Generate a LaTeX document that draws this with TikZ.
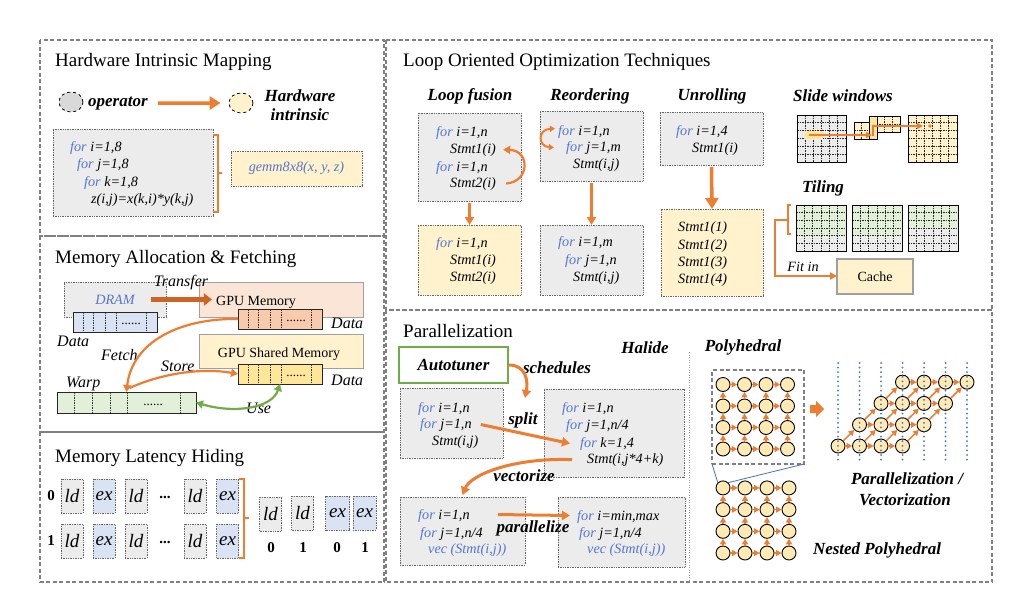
\documentclass[tikz,border=0pt]{standalone}
\usepackage{fontspec}
\setmainfont{Liberation Serif}
\usetikzlibrary{arrows.meta,shapes.geometric,calc}
\definecolor{orng}{RGB}{237,125,49}
\definecolor{dorng}{RGB}{205,100,35}
\definecolor{cblue}{RGB}{84,118,205}
\definecolor{pgray}{RGB}{128,128,128}
\definecolor{cgray}{RGB}{236,236,236}
\definecolor{dgray}{RGB}{100,100,100}
\definecolor{egray}{RGB}{217,217,217}
\definecolor{cyel}{RGB}{255,242,204}
\definecolor{cyel2}{RGB}{255,230,153}
\definecolor{lblue}{RGB}{218,227,243}
\definecolor{lgreen}{RGB}{226,240,217}
\definecolor{sal1}{RGB}{251,229,214}
\definecolor{sal2}{RGB}{248,203,173}
\definecolor{ggreen}{RGB}{112,173,71}
\definecolor{circf}{RGB}{255,234,180}
\definecolor{dblue}{RGB}{68,114,196}
\definecolor{mgray}{RGB}{160,160,160}
\tikzset{
  panel/.style={draw=pgray, line width=1.1pt, dash pattern=on 4pt off 2.5pt},
  dbox/.style={draw=dgray, line width=0.7pt, dash pattern=on 0.8pt off 0.9pt, inner sep=0pt, outer sep=0pt},
  codebox/.style={dbox, fill=cgray},
  yelbox/.style={dbox, fill=cyel},
  memE/.style={draw=mgray, line width=0.9pt, inner sep=0pt, outer sep=0pt},
  arr/.style={draw=black!85, line width=0.9pt, inner sep=0pt, outer sep=0pt},
  divl/.style={draw=black!80, line width=0.7pt, dash pattern=on 1.5pt off 1pt},
  dotsn/.style={font=\fontsize{13}{14}\selectfont, inner sep=0pt},
  ttl/.style={font=\fontsize{19}{22}\selectfont, inner sep=0pt},
  codetxt/.style={font=\fontsize{14.2}{16}\selectfont\itshape, inner sep=0pt},
  lab/.style={font=\fontsize{17}{19}\selectfont\bfseries\itshape, inner sep=0pt},
  itl/.style={font=\fontsize{16}{18}\selectfont\itshape, inner sep=0pt},
  mtxt/.style={font=\fontsize{14}{16}\selectfont, inner sep=0pt},
  oarr/.style={draw=orng, line width=3pt, -{Triangle[length=8pt,width=9pt]}},
  oarrs/.style={draw=orng, line width=2.2pt, -{Triangle[length=7pt,width=8pt]}},
  tarr/.style={draw=dorng, line width=5pt, -{Triangle[length=8pt,width=12pt]}},
  garr/.style={draw=ggreen, line width=2.2pt, {Triangle[length=7pt,width=8pt]}-{Triangle[length=7pt,width=8pt]}},
  obr/.style={draw=orng, line width=2pt},
  latb/.style={dbox, minimum width=22pt, minimum height=34pt, font=\fontsize{19}{20}\selectfont\itshape},
  bnum/.style={font=\fontsize{15}{16}\selectfont\bfseries, inner sep=0pt},
  gridb/.style={draw=black, line width=1pt, inner sep=0pt, outer sep=0pt},
  gridl/.style={draw=black!85, line width=0.9pt, dash pattern=on 1.5pt off 1pt},
  circ/.style={circle, draw=black, line width=0.9pt, fill=circf, minimum size=14pt, inner sep=0pt},
  parr/.style={draw=orng, line width=1.5pt, -{Triangle[length=5.5pt,width=6pt]}},
  bdot/.style={draw=dblue, line width=2pt, line cap=round, dash pattern=on 0pt off 4.6pt},
}
\newcommand\bx[6]{\node[#1, minimum width={(#5)-(#3)}, minimum height={(#6)-(#4)}] (#2) at ({((#3)+(#5))/2},{((#4)+(#6))/2}) {};}
\newcommand\cl[4]{\node[codetxt, anchor=base west] (#1) at (#2,#3) {#4};}
\newcommand\kw{\textcolor{cblue}{for}\ }
\newcommand\marr[8]{\bx{arr, fill=#6}{#1}{#2}{#3}{#4}{#5}
  \foreach \d in {#7}{\draw[divl] (\d,#3) -- (\d,#5);}
  \node[dotsn] (#1d) at (#8,{(#3+#5)/2+2}) {......};}
\newcommand\grd[8]{\bx{gridb,#8}{#1}{#2}{#3}{#4}{#5}
  \foreach \i in {1,...,#6}{\ifnum\i<#6 \draw[gridl] ({#2+(#4-#2)*\i/#6},#3) -- ({#2+(#4-#2)*\i/#6},#5);\fi}
  \foreach \j in {1,...,#7}{\ifnum\j<#7 \draw[gridl] (#2,{#3+(#5-#3)*\j/#7}) -- (#4,{#3+(#5-#3)*\j/#7});\fi}
  \draw[gridb] (#1.north west) rectangle (#1.south east);}
\begin{document}
\begin{tikzpicture}[x=1pt,y=-1pt]
\useasboundingbox (0,0) rectangle (1014,603);
\fill[white] (0,0) rectangle (1014,603);
% ---------- panels
\draw[panel] (40,40) rectangle (384,236);
\draw[panel] (40,236) rectangle (384,432);
\draw[panel] (40,432) rectangle (384,582);
\draw[panel] (386,40) rectangle (992,310);
\draw[panel] (386,310) rectangle (992,582);
\node[ttl, anchor=base west] (t1) at (55,66) {Hardware Intrinsic Mapping};
\node[ttl, anchor=base west] (t2) at (55,263) {Memory Allocation \& Fetching};
\node[ttl, anchor=base west] (t3) at (55,462) {Memory Latency Hiding};
\node[ttl, anchor=base west] (t4) at (403,66) {Loop Oriented Optimization Techniques};
\node[ttl, anchor=base west] (t5) at (403,337) {Parallelization};
% ---------- panel 1
\node[ellipse, draw=black, dashed, line width=0.8pt, fill=egray, minimum width=24pt, minimum height=20pt, inner sep=0pt] (op) at (71,102) {};
\node[lab, anchor=base west] (opl) at (88,106) {operator};
\node[ellipse, draw=black, dashed, line width=0.8pt, fill=cyel, minimum width=24pt, minimum height=20pt, inner sep=0pt] (hw) at (241,103) {};
\node[lab, anchor=base] (hwl1) at (300,101) {Hardware};
\node[lab, anchor=base] (hwl2) at (300,120) {intrinsic};
\draw[draw=orng, line width=3.5pt, -{Triangle[length=11pt,width=13pt]}] ([xshift=10pt]opl.east) -- ([xshift=-8pt]hw.west);
\bx{codebox}{cb1}{53}{129}{213}{216}
\cl{h1}{70}{151}{\kw i=1,8}
\cl{h2}{77}{168.5}{\kw j=1,8}
\cl{h3}{84}{186}{\kw k=1,8}
\cl{h4}{91}{203.5}{z(i,j)=x(k,i)*y(k,j)}
\draw[obr] (213,135) -- (218,135) -- (218,212) -- (213,212) (218,173) -- (222,173);
\bx{yelbox}{gb}{231}{151}{362}{186}
\node[codetxt, text=cblue] (gbt) at (gb) {gemm8x8(x, y, z)};
% ---------- panel 2
\bx{codebox}{dram}{64}{282}{166}{317}
\node[codetxt, text=cblue, anchor=base] (dramt) at (115,304) {DRAM};
\bx{memE, fill=sal1}{gpum}{199}{282}{363}{317}
\node[mtxt, anchor=base] (gpumt) at (256,305) {GPU Memory};
\bx{memE, fill=cyel}{gpus}{199}{334}{363}{368}
\node[mtxt, anchor=base] (gpust) at (279,357) {GPU Shared Memory};
\marr{m1}{73}{312}{157}{332}{lblue}{83,93,105,116,146}{131}
\marr{m2}{238}{309}{322}{329}{sal2}{248,258,270,281,311}{296}
\marr{m3}{238}{364}{322}{384}{cyel2}{248,258,270,281,311}{296}
\marr{m4}{57}{392}{196}{413}{lgreen}{74,92,110,127,180}{153}
\node[itl, anchor=base] (trl) at (181,286) {Transfer};
\draw[tarr] ([xshift=-15pt]dram.east) -- ($(gpumt.west |- dram.east)+(-4,0)$);
\node[itl, anchor=base west] (d1) at (57,346) {Data};
\node[itl, anchor=base west] (d2) at (331,328) {Data};
\node[itl, anchor=base west] (d3) at (331,385) {Data};
\node[itl, anchor=base west] (fl) at (101,360) {Fetch};
\node[itl, anchor=base west] (sl) at (161,371) {Store};
\node[itl, anchor=base west] (wl) at (66,387) {Warp};
\node[itl, anchor=base west] (ul) at (246,413) {Use};
\draw[oarrs] (m2.west) .. controls (180,318) and (132,342) .. (m4.north);
\draw[oarrs] ($(m4.north)+(3,-4)$) .. controls (165,372) and (205,368) .. (m3.west);
\draw[garr] (m4.east) .. controls (235,414) and (272,408) .. (m3.south);
% ---------- panel 3
\node[bnum] (n0) at (51,496) {0};
\node[bnum] (n1) at (51,541) {1};
\node[latb, fill=cgray] (r0a) at (72,496) {ld};
\node[latb, fill=lblue] (r0b) at (104,496) {ex};
\node[latb, fill=cgray] (r0c) at (136,496) {ld};
\node[bnum] (r0d) at (165,497) {...};
\node[latb, fill=cgray] (r0e) at (195,496) {ld};
\node[latb, fill=lblue] (r0f) at (227.5,496) {ex};
\node[latb, fill=cgray] (r1a) at (72,541) {ld};
\node[latb, fill=lblue] (r1b) at (104,541) {ex};
\node[latb, fill=cgray] (r1c) at (136,541) {ld};
\node[bnum] (r1d) at (165,542) {...};
\node[latb, fill=cgray] (r1e) at (195,541) {ld};
\node[latb, fill=lblue] (r1f) at (227.5,541) {ex};
\draw[obr] (239,479) -- (244,479) -- (244,558) -- (239,558) (244,518) -- (249,518);
\node[latb, fill=cgray] (q0) at (270.5,514) {ld};
\node[latb, fill=cgray] (q1) at (302.5,513) {ld};
\node[latb, fill=lblue, minimum width=24pt] (q2) at (337.5,513) {ex};
\node[latb, fill=lblue, minimum width=23pt] (q3) at (364.5,513) {ex};
\node[bnum] (b0) at (271,548) {0};
\node[bnum] (b1) at (303,548) {1};
\node[bnum] (b2) at (337,548) {0};
\node[bnum] (b3) at (365,548) {1};
% ---------- panel 4
\node[lab, anchor=base] (lf) at (470,100) {Loop fusion};
\node[lab, anchor=base] (lr) at (590,100) {Reordering};
\node[lab, anchor=base] (lu) at (712,100) {Unrolling};
\node[lab, anchor=base] (lsw) at (843,101) {Slide windows};
\node[lab, anchor=base] (lt) at (823,192) {Tiling};
\bx{codebox}{fb1}{418}{113}{521}{201}
\cl{f1}{436}{136}{\kw i=1,n}
\cl{f2}{450}{153}{Stmt1(i)}
\cl{f3}{436}{171}{\kw i=1,n}
\cl{f4}{450}{187}{Stmt2(i)}
\draw[oarrs] ([xshift=10pt]f4.east) .. controls +(24,-2) and +(27,1) .. ([xshift=7pt]f2.east);
\bx{yelbox}{fb2}{418}{225}{521}{295}
\cl{g1}{436}{247}{\kw i=1,n}
\cl{g2}{450}{264}{Stmt1(i)}
\cl{g3}{450}{281}{Stmt2(i)}
\draw[oarr] ([yshift=-2pt]fb1.south) -- (fb2.north);
\bx{codebox}{rb1}{540}{111}{643}{181}
\cl{r1}{558}{135}{\kw i=1,n}
\cl{r2}{566}{151}{\kw j=1,m}
\cl{r3}{573}{168}{Stmt(i,j)}
\draw[draw=orng, line width=2pt, {Triangle[length=5pt,width=6pt]}-{Triangle[length=5pt,width=6pt]}] ([xshift=-3pt,yshift=3pt]r1.west) .. controls +(-18,1) and +(-16,-1) .. ([xshift=-12pt]r2.west);
\bx{codebox}{rb2}{540}{225}{643}{295}
\cl{s1}{558}{246}{\kw i=1,m}
\cl{s2}{565}{264}{\kw j=1,n}
\cl{s3}{573}{281}{Stmt(i,j)}
\draw[oarr] ([yshift=-2pt]rb1.south) -- (rb2.north);
\bx{codebox}{ub1}{660}{112}{763}{165}
\cl{u1}{676}{135}{\kw i=1,4}
\cl{u2}{692}{152}{Stmt1(i)}
\bx{yelbox}{ub2}{661}{209}{763}{296}
\cl{v1}{678}{231}{Stmt1(1)}
\cl{v2}{678}{249}{Stmt1(2)}
\cl{v3}{678}{266}{Stmt1(3)}
\cl{v4}{678}{283}{Stmt1(4)}
\draw[draw=orng, line width=3.5pt, -{Triangle[length=11pt,width=13pt]}] ([yshift=-2pt]ub1.south) -- (ub2.north);
% slide windows
\grd{sw1}{797}{115}{846}{162}{6}{6}{fill=cgray}
\fill[cyel2] (805,131) rectangle (823,139);
\grd{pc1}{854}{122}{877}{139}{3}{2}{fill=cyel}
\grd{pc2}{869}{116}{900}{132}{4}{2}{fill=cyel}
\fill[cyel2, draw=black, line width=0.8pt] (869,116) rectangle (877,139);
\grd{sw3}{908}{115}{957}{162}{6}{6}{fill=cyel}
\fill[orng] (930,126) circle (1.8);
\draw[draw=orng, line width=2pt, -{Triangle[length=6pt,width=6pt]}] (809,135) -- (872,135);
\draw[draw=orng, line width=2pt, -{Triangle[length=6pt,width=6pt]}] (873,136) -- (873,126) -- (923,126);
% tiling
\fill[cgray] (796,205) rectangle (846,251);
\fill[lgreen] (796,205) rectangle (846,235.7);
\grd{tg1}{796}{205}{846}{251}{6}{6}{fill=none}
\fill[cgray] (852,205) rectangle (902,251);
\fill[lgreen] (852,205) rectangle (902,235.7);
\grd{tg2}{852}{205}{902}{251}{6}{6}{fill=none}
\fill[cgray] (908,205) rectangle (958,251);
\fill[lgreen] (908,205) rectangle (958,228);
\grd{tg3}{908}{205}{958}{251}{6}{6}{fill=none}
\bx{memE, fill=cyel, line width=1.2pt}{cache}{837}{259}{913}{294}
\node[mtxt] (cachet) at (cache) {Cache};
\draw[obr] (791,205) -- (788,205) -- (788,234) -- (791,234);
\draw[draw=orng, line width=2pt, -{Triangle[length=7pt,width=7pt]}] (788,220) -- (775,220) -- (775,276) -- (cache.west |- 775,276);
\node[codetxt, anchor=base] (fitl) at (803,271) {Fit in};
% ---------- panel 5
\node[lab, anchor=base] (hal) at (645,353) {Halide};
\draw[draw=mgray, line width=1pt, dash pattern=on 1pt off 1.5pt] (689,352) -- (689,582);
\node[draw=ggreen, line width=1.5pt, fill=white, minimum width=109pt, minimum height=36pt, inner sep=0pt, lab] (auto) at (453.5,365) {Autotuner};
\node[lab, anchor=base] (schl) at (557,373) {schedules};
\bx{codebox}{bA}{400}{388}{503}{458}
\cl{pa1}{418}{412}{\kw i=1,n}
\cl{pa2}{420}{428}{\kw j=1,n}
\cl{pa3}{432}{445}{Stmt(i,j)}
\bx{codebox}{bB}{544}{389}{684}{477}
\cl{pb1}{562}{412}{\kw i=1,n}
\cl{pb2}{566}{429}{\kw j=1,n/4}
\cl{pb3}{580}{447}{\kw k=1,4}
\cl{pb4}{587}{463}{Stmt(i,j*4+k)}
\bx{codebox}{bC}{400}{497}{525}{565}
\cl{pc1t}{418}{519}{\kw i=1,n}
\cl{pc2t}{420}{537}{\kw j=1,n/4}
\cl{pc3t}{428}{553}{\textcolor{cblue}{vec (Stmt(i,j))}}
\bx{codebox}{bD}{558}{497}{685}{567}
\cl{pd1}{577}{520}{\kw i=min,max}
\cl{pd2}{579}{537}{\kw j=1,n/4}
\cl{pd3}{587}{553}{\textcolor{cblue}{vec (Stmt(i,j))}}
\draw[oarr] (auto.east) .. controls +(18,0) and +(3,-16) .. ($(bB.north west)+(-19,9)$);
\node[lab, anchor=base] (splt) at (523,424) {split};
\draw[oarr] ([xshift=9pt]pa2.east) -- ([xshift=-10pt]pb3.west);
\node[lab, anchor=base] (vect) at (524,481) {vectorize};
\draw[oarr] ([xshift=-15pt]pb4.west) .. controls +(-60,-2) and +(8,-20) .. ([yshift=2pt]bC.north);
\node[lab, anchor=base] (parl) at (533,532) {parallelize};
\draw[oarr] ($(pc1t.east)+(28,-1)$) -- ($(pd1.west)+(-7,-1)$);
% polyhedral
\node[lab, anchor=base] (polyl) at (743,351) {Polyhedral};
\bx{draw=pgray, line width=1.2pt, dash pattern=on 4pt off 2.5pt, inner sep=0pt, outer sep=0pt}{pbox}{712}{370}{804}{464}
\foreach \r in {0,...,3}{\foreach \c in {0,...,3}{
  \node[circ] (p\r\c) at ({723+\c*21.5},{449-\r*21.5}) {};
  \node[circ] (n\r\c) at ({723+\c*22},{553-\r*21.7}) {};
  \node[circ] (s\r\c) at ({838+(\c+\r)*21.5},{446-\r*21.3}) {};
}}
\foreach \r in {0,...,3}{\foreach \c in {0,...,2}{
  \pgfmathtruncatemacro\cc{\c+1}
  \draw[parr] (p\r\c) -- (p\r\cc);
  \draw[parr] (n\r\c) -- (n\r\cc);
  \draw[parr] (s\r\c) -- (s\r\cc);
}}
\foreach \r in {0,...,2}{\foreach \c in {0,...,3}{
  \pgfmathtruncatemacro\rr{\r+1}
  \draw[parr] (p\r\c) -- (p\rr\c);
  \draw[parr] (n\r\c) -- (n\rr\c);
  \draw[parr] (s\r\c) -- (s\rr\c);
}}
\draw[draw=dblue, line width=0.8pt] (pbox.south west) -- (n30.north west);
\draw[draw=dblue, line width=0.8pt] (pbox.south east) -- (n30.north east);
\foreach \k in {0,...,6}{\draw[bdot] ({838+\k*21.5},363) -- ({838+\k*21.5},460);}
\fill[orng] (810,405) -- (816,405) -- (816,401) -- (824,409) -- (816,417) -- (816,413) -- (810,413) -- cycle;
\node[lab, anchor=base] (pvl1) at (907,484) {Parallelization /};
\node[lab, anchor=base] (pvl2) at (905,505) {Vectorization};
\node[lab, anchor=base] (npl) at (877,554) {Nested Polyhedral};
\end{tikzpicture}
\end{document}
